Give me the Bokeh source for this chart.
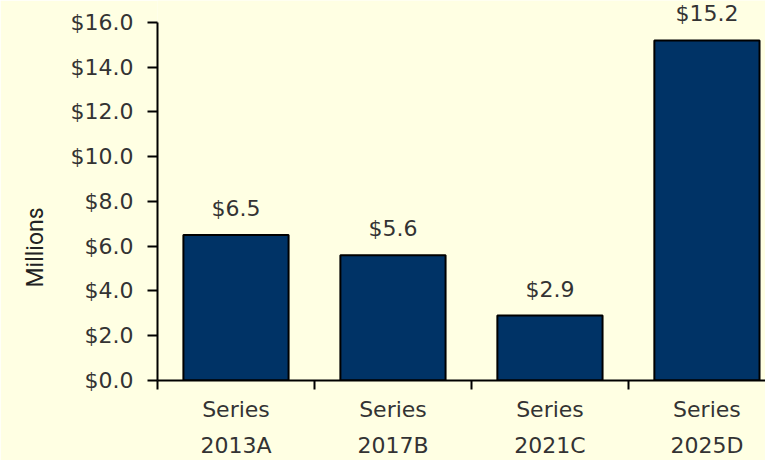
from bokeh.plotting import figure
from bokeh.models import (ColumnDataSource, FixedTicker, NumeralTickFormatter,
                          Range1d, LabelSet, Title)
from bokeh.core.properties import value
from bokeh.embed import file_html
from bokeh.resources import INLINE

categories = ["Series\n2013A", "Series\n2017B", "Series\n2021C", "Series\n2025D"]
values = [6.5, 5.6, 2.9, 15.2]
value_labels = ["$6.5", "$5.6", "$2.9", "$15.2"]
y_ticks = [0, 2, 4, 6, 8, 10, 12, 14, 16]

BG = "#FFFFE3"
BAR = "#003366"
TXT = "#333333"
FONT = "DejaVu Sans"
FS = "22px"

xs = [i + 0.5 for i in range(len(categories))]
src = ColumnDataSource(dict(x=xs, top=values, lab=value_labels))

p = figure(width=765, height=460, output_backend="svg", toolbar_location=None,
           x_range=Range1d(0, 3.873), y_range=Range1d(0, 16.983),
           min_border_left=157, min_border_right=0, min_border_top=0,
           min_border_bottom=80)
p.background_fill_color = BG
p.border_fill_color = BG
p.outline_line_color = None
p.xgrid.visible = False
p.ygrid.visible = False

p.vbar(x="x", top="top", width=0.67, bottom=0, source=src,
       fill_color=BAR, line_color="black", line_width=2)

labels = LabelSet(x="x", y="top", text="lab", source=src, text_align="center",
                  text_baseline="bottom", y_offset=14, text_font=value(FONT),
                  text_font_size=FS, text_color=TXT)
p.add_layout(labels)

# y axis
ya = p.yaxis[0]
ya.ticker = FixedTicker(ticks=y_ticks, minor_ticks=[])
ya.bounds = (0, 16)
ya.formatter = NumeralTickFormatter(format="$0.0")
ya.axis_line_width = 2
ya.axis_line_color = "black"
ya.major_tick_line_width = 2
ya.major_tick_out = 10
ya.major_tick_in = 0
ya.major_label_standoff = 14
ya.major_label_text_font = FONT
ya.major_label_text_font_size = FS
ya.major_label_text_color = TXT

# x axis
xa = p.xaxis[0]
xa.ticker = FixedTicker(ticks=xs, minor_ticks=[float(i) for i in range(len(categories))])
xa.major_label_overrides = {x: c for x, c in zip(xs, categories)}
xa.axis_line_width = 2
xa.axis_line_color = "black"
xa.major_tick_line_color = None
xa.major_tick_out = 0
xa.major_tick_in = 0
xa.minor_tick_line_color = "black"
xa.minor_tick_line_width = 2
xa.minor_tick_out = 9
xa.minor_tick_in = 0
xa.major_label_standoff = 7
xa.major_label_text_font = FONT
xa.major_label_text_font_size = FS
xa.major_label_text_line_height = 1.45
xa.major_label_text_color = TXT
xa.major_label_orientation = "horizontal"

ttl = Title(text="Millions", align="left", offset=93, vertical_align="top",
            standoff=34, text_font="Roboto", text_font_size="23px",
            text_font_style="normal", text_color="#222222")
p.add_layout(ttl, "left")

open("out.html", "w").write(file_html(p, INLINE))
